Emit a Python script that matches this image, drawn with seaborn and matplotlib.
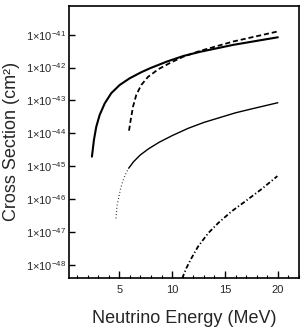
import numpy as np
import pandas as pd
import seaborn as sns
import matplotlib.pyplot as plt
from matplotlib.ticker import FixedLocator, MultipleLocator

# values (energy in MeV, cross section in cm^2)
solid_x = [2.41, 2.60, 2.82, 3.14, 3.62, 4.24, 5.04, 5.98, 7.08, 7.91, 9.49,
           11.06, 12.64, 15.80, 20.0]
solid_y = [1.95e-45, 6.3e-45, 1.58e-44, 3.6e-44, 8.1e-44, 1.66e-43, 2.95e-43,
           4.7e-43, 7.2e-43, 9.5e-43, 1.51e-42, 2.24e-42, 3.0e-42, 4.9e-42, 8.3e-42]

dashed_x = [5.92, 6.08, 6.30, 6.61, 7.08, 7.72, 8.70, 9.80, 11.06, 12.64, 15.80, 19.9]
dashed_y = [1.2e-44, 2.57e-44, 6.5e-44, 1.48e-43, 2.95e-43, 5.2e-43, 8.9e-43,
            1.38e-42, 2.14e-42, 3.2e-42, 6.2e-42, 1.23e-41]

dotted_x = [4.69, 4.78, 4.94, 5.09, 5.32, 5.57, 5.89]
dotted_y = [2.6e-47, 6.2e-47, 1.07e-46, 1.9e-46, 3.4e-46, 5.5e-46, 8.7e-46]

thin_x = [5.89, 6.36, 6.99, 7.78, 8.8, 10.0, 11.5, 13.0, 14.5, 16.0, 17.5, 20.0]
thin_y = [8.7e-46, 1.38e-45, 2.2e-45, 3.4e-45, 5.4e-45, 8.5e-45, 1.41e-44,
          2.14e-44, 3.0e-44, 4.2e-44, 5.5e-44, 8.5e-44]

dashdot_x = [10.95, 11.34, 11.82, 12.45, 13.40, 14.35, 15.61, 16.87, 18.45, 19.96]
dashdot_y = [3.9e-49, 7.9e-49, 1.58e-48, 3.6e-48, 9.1e-48, 1.86e-47, 4.2e-47,
             8.3e-47, 2.0e-46, 5.0e-46]

ytick_exp = [-41, -42, -43, -44, -45, -46, -47, -48]
xtick_vals = [5, 10, 15, 20]

sns.set_style('ticks')
plt.rcParams['font.family'] = ['Liberation Sans', 'DejaVu Sans']
plt.rcParams['mathtext.fontset'] = 'custom'
plt.rcParams['mathtext.rm'] = 'Liberation Sans'
plt.rcParams['mathtext.default'] = 'regular'

fig = plt.figure(figsize=(3.06, 3.34), dpi=100)
ax = fig.add_axes([0.2265, 0.1686, 0.7505, 0.8134])

curves = [
    (solid_x, solid_y, dict(linewidth=1.5, linestyle='-')),
    (dashed_x, dashed_y, dict(linewidth=1.3, dashes=(2.8, 1.6))),
    (dotted_x, dotted_y, dict(linewidth=0.9, dashes=(0.6, 2.0))),
    (thin_x, thin_y, dict(linewidth=1.0, linestyle='-')),
    (dashdot_x, dashdot_y, dict(linewidth=1.3, dashes=(2.6, 1.3, 0.7, 1.3))),
]
for xs, ys, kw in curves:
    df = pd.DataFrame({'E': xs, 'sigma': ys})
    sns.lineplot(data=df, x='E', y='sigma', color='black', ax=ax, **kw)

ax.set_yscale('log')
ax.set_xlim(0.27, 22)
ax.set_ylim(10 ** -48.39, 10 ** -40.13)

ax.yaxis.set_major_locator(FixedLocator([10.0 ** e for e in ytick_exp]))
ax.yaxis.set_minor_locator(FixedLocator([]))
ax.set_yticklabels(['1×10$^{%d}$' % e for e in ytick_exp])
ax.xaxis.set_major_locator(FixedLocator(xtick_vals))
ax.xaxis.set_minor_locator(MultipleLocator(1))

ax.tick_params(axis='both', which='both', direction='in', labelsize=8, color='black')
ax.tick_params(axis='x', which='major', length=5, width=1, pad=5)
ax.tick_params(axis='x', which='minor', length=2.5, width=0.8)
ax.tick_params(axis='y', which='major', length=4, width=1, pad=2.5)
for s in ax.spines.values():
    s.set_linewidth(1.2)
    s.set_color('black')

ax.set_xlabel('Neutrino Energy (MeV)', fontsize=13, labelpad=11)
ax.set_ylabel('Cross Section (cm²)', fontsize=13, labelpad=4)

fig.savefig('out.png', dpi=100)
